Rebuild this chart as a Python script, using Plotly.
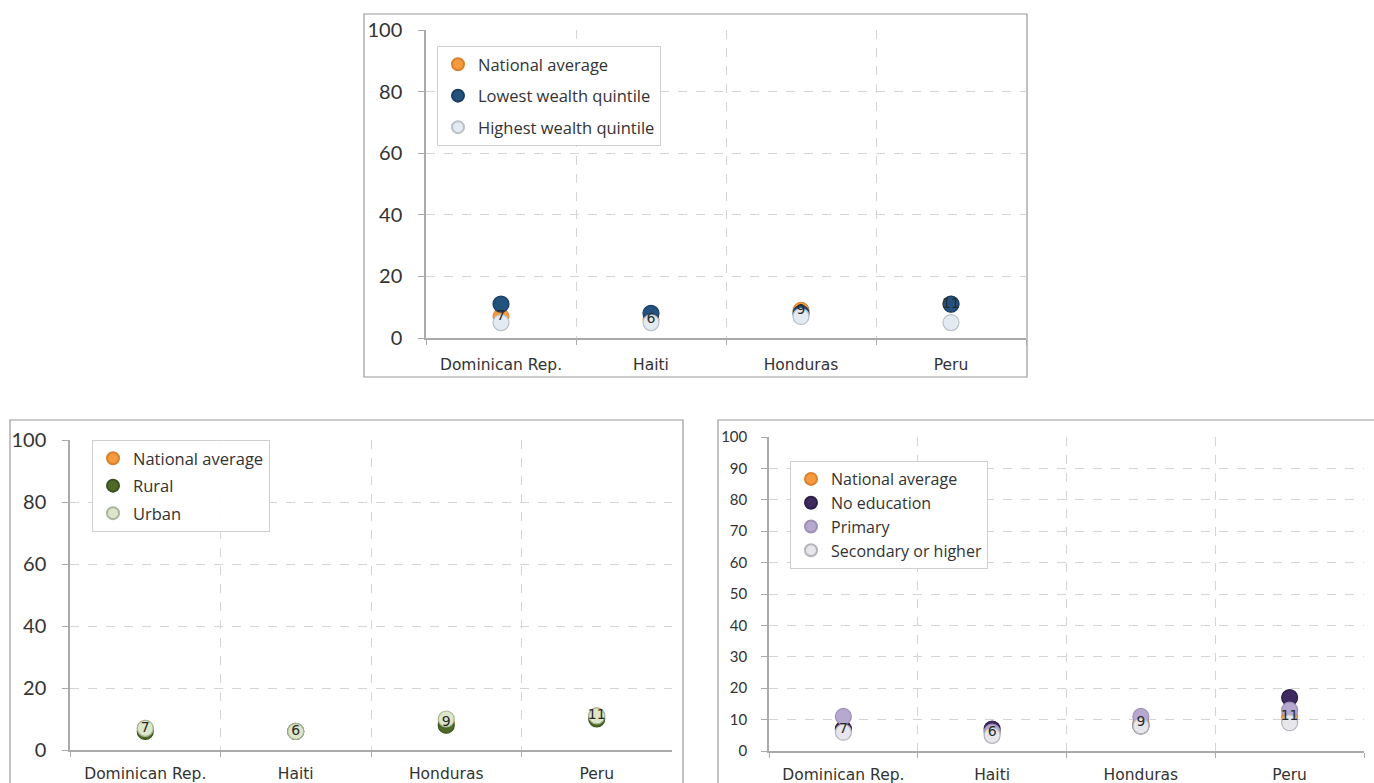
import plotly.graph_objects as go

W, H = 1374, 783

countries = ["Dominican Rep.", "Haiti", "Honduras", "Peru"]

# Panel 1: wealth
national = [7, 6, 9, 11]
lowest_wealth = [11, 8, 8, 11]
highest_wealth = [5, 5, 7, 5]

# Panel 2: residence
rural = [6, 6, 8, 10]
urban = [7, 6, 10, 11]

# Panel 3: education
no_education = [7, 7, 8, 17]
primary = [11, 6, 11, 13]
secondary = [6, 5, 8, 9]

C_NAT = "#F59A3E"


def px_x(p):
    return p / W


def px_y(p):
    return 1 - p / H


fig = go.Figure()

panels = [
    dict(ax="", leg="legend", series=[
        ("Lowest wealth quintile", lowest_wealth, "#24527E", "#1A3D60"),
        ("Highest wealth quintile", highest_wealth, "#E3EAF2", "#B9C0C8"),
    ]),
    dict(ax="2", leg="legend2", series=[
        ("Rural", rural, "#4E6A26", "#3B501C"),
        ("Urban", urban, "#DCE6C8", "#A9B39A"),
    ]),
    dict(ax="3", leg="legend3", series=[
        ("No education", no_education, "#3E2A5E", "#2E1F47"),
        ("Primary", primary, "#B7A8D0", "#9E90B6"),
        ("Secondary or higher", secondary, "#E6E6EC", "#B4B4BC"),
    ]),
]

for k, p in enumerate(panels):
    xa, ya = "x" + p["ax"], "y" + p["ax"]
    fig.add_trace(go.Scatter(
        x=countries, y=national, mode="markers", name="National average",
        marker=dict(size=16, color=C_NAT, line=dict(color="#D9812E", width=1)),
        xaxis=xa, yaxis=ya, legend=p["leg"], legendgroup=f"p{k}nat",
        cliponaxis=False))
    for j, (name, vals, col, edge) in enumerate(p["series"]):
        fig.add_trace(go.Scatter(
            x=countries, y=vals, mode="markers", name=name,
            marker=dict(size=16, color=col, line=dict(color=edge, width=1.2)),
            xaxis=xa, yaxis=ya, legend=p["leg"], legendgroup=f"p{k}s{j}",
            cliponaxis=False))
    # value labels for the national average
    fig.add_trace(go.Scatter(
        x=countries, y=national, mode="text", text=[str(v) for v in national],
        textposition="middle center", showlegend=False,
        textfont=dict(family="DejaVu Sans", size=14, color="#2a2a2a"),
        xaxis=xa, yaxis=ya, cliponaxis=False, hoverinfo="skip"))

grid = dict(showgrid=True, gridcolor="#d4d4d4", griddash="dash", gridwidth=1)


def xaxis(domain, anchor, standoff):
    return dict(domain=domain, range=[-0.5, 3.5], type="category",
                tickson="boundaries", ticks="outside", ticklen=5,
                tickcolor="#aaaaaa", showline=True, linecolor="#aaaaaa",
                linewidth=1.5, ticklabelstandoff=standoff, automargin=False,
                tickfont=dict(family="DejaVu Sans", size=15.5,
                              color="#333333"),
                anchor=anchor, fixedrange=True, **grid)


def yaxis(domain, dtick, fsize, anchor, standoff):
    return dict(domain=domain, range=[0, 100], dtick=dtick, ticks="outside",
                ticklen=6, tickcolor="#aaaaaa", showline=True,
                linecolor="#aaaaaa", linewidth=1.5, zeroline=False,
                ticklabelstandoff=standoff, automargin=False,
                tickfont=dict(family="Lato", size=fsize, color="#333333"),
                anchor=anchor, fixedrange=True, **grid)


leg_common = dict(bgcolor="rgba(255,255,255,0.95)", bordercolor="#cfcfcf",
                  borderwidth=1, itemsizing="constant",
                  xanchor="left", yanchor="top")

fig.update_layout(
    width=W, height=H, margin=dict(l=0, r=0, t=0, b=0),
    paper_bgcolor="white", plot_bgcolor="white",
    xaxis=xaxis([px_x(426), px_x(1026)], "y", 12),
    yaxis=yaxis([px_y(338), px_y(30)], 20, 20, "x", 12),
    xaxis2=xaxis([px_x(70), px_x(672)], "y2", 9),
    yaxis2=yaxis([px_y(750), px_y(440)], 20, 20, "x2", 12),
    xaxis3=xaxis([px_x(769), px_x(1364)], "y3", 9),
    yaxis3=yaxis([px_y(751), px_y(437)], 10, 15, "x3", 11),
    legend=dict(x=px_x(437), y=px_y(46), tracegroupgap=7,
                font=dict(family="Open Sans", size=16.5, color="#333333"),
                **leg_common),
    legend2=dict(x=px_x(92), y=px_y(440), tracegroupgap=3,
                 font=dict(family="Open Sans", size=16.5, color="#333333"),
                 **leg_common),
    legend3=dict(x=px_x(790), y=px_y(461), tracegroupgap=0,
                 font=dict(family="Open Sans", size=16, color="#333333"),
                 **leg_common),
    showlegend=True,
)

# panel frames
for x0, y0, x1, y1 in [(364, 14, 1027, 377), (10, 420, 683, 800),
                       (718, 420, 1380, 800)]:
    fig.add_shape(type="rect", xref="paper", yref="paper",
                  x0=px_x(x0), x1=px_x(x1), y0=px_y(y1), y1=px_y(y0),
                  line=dict(color="#9a9a9a", width=1.2), layer="below")

fig.write_html("out.html")
